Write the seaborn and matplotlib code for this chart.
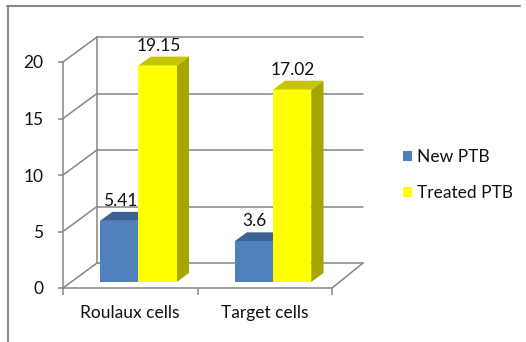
import matplotlib
matplotlib.use("Agg")
import matplotlib.pyplot as plt
import matplotlib.transforms as mtransforms
from matplotlib.lines import Line2D
from matplotlib.patches import Polygon, Patch
import seaborn as sns
import pandas as pd
import numpy as np

categories = ["Roulaux cells", "Target cells"]
series = ["New PTB", "Treated PTB"]
new_ptb = [5.41, 3.6]
treated_ptb = [19.15, 17.02]
value_labels = ["5.41", "3.6", "19.15", "17.02"]
yticks = [0, 5, 10, 15, 20]

df = pd.DataFrame({
    "cat": categories * 2,
    "series": [series[0]] * 2 + [series[1]] * 2,
    "value": new_ptb + treated_ptb,
})

sns.set_theme(style="white")
plt.rcParams['font.family'] = ['Lato', 'DejaVu Sans']

W, H, DPI = 526, 342, 100
FS = 12.5
TXT = "#111111"
fig = plt.figure(figsize=(W / DPI, H / DPI), dpi=DPI)
ax = fig.add_axes([63 / W, 54 / H, 269 / W, 226 / H])

front_cols = {"New PTB": "#4F81BD", "Treated PTB": "#FFFF00"}
top_cols = {"New PTB": "#3B6293", "Treated PTB": "#C6C600"}
side_cols = {"New PTB": "#33557F", "Treated PTB": "#A6A600"}
grid_col = "#868686"

sns.barplot(data=df, x="cat", y="value", hue="series", palette=front_cols,
            width=0.57, saturation=1, edgecolor="none", linewidth=0,
            legend=False, ax=ax)

ax.set_xlim(-0.5, 1.5)
ax.set_ylim(0, 20)
ax.set_autoscale_on(False)

# depth of the oblique projection, in pixels
DX, DY = 34.0, 25.0
F0, F1 = 0.24, 0.60  # bar front / back depth fractions
ident = mtransforms.IdentityTransform()


def P(x, y, f):
    px, py = ax.transData.transform((x, y))
    return (px + f * DX, py + f * DY)


def off(f):
    return ax.transData + mtransforms.ScaledTranslation(f * DX / DPI, f * DY / DPI, fig.dpi_scale_trans)


# back wall gridlines and left wall diagonals
for v in yticks:
    a, b = P(-0.5, v, 1), P(1.5, v, 1)
    ax.add_artist(Line2D([a[0], b[0] - 3], [a[1], b[1]], color=grid_col, lw=1.1,
                         transform=ident, clip_on=False, zorder=0.5))
    c = P(-0.5, v, 0)
    ax.add_artist(Line2D([c[0], a[0]], [c[1], a[1]], color=grid_col, lw=1.1,
                         transform=ident, clip_on=False, zorder=0.5))
a, b = P(-0.5, 0, 1), P(-0.5, 20, 1)
ax.add_artist(Line2D([a[0], b[0]], [a[1], b[1]], color=grid_col, lw=1.1,
                     transform=ident, clip_on=False, zorder=0.5))
a, b = P(1.5, 0, 0), P(1.5, 0, 1)
ax.add_artist(Line2D([a[0], b[0] - 3], [a[1], b[1]], color=grid_col, lw=1.1,
                     transform=ident, clip_on=False, zorder=0.5))

# 3D faces for the bars
patches = list(ax.patches)
base_z = {"New PTB": 1.0, "Treated PTB": 1.4}
for i, p in enumerate(patches):
    s = series[i // 2]
    x0 = p.get_x()
    w = p.get_width()
    h = p.get_height()
    x1 = x0 + w
    z = base_z[s] + 0.1 * (i % 2)
    side = [P(x1, 0, F0), P(x1, 0, F1), P(x1, h, F1), P(x1, h, F0)]
    top = [P(x0, h, F0), P(x0, h, F1), P(x1, h, F1), P(x1, h, F0)]
    ax.add_artist(Polygon(side, closed=True, facecolor=side_cols[s], edgecolor="none",
                          transform=ident, clip_on=False, zorder=z))
    ax.add_artist(Polygon(top, closed=True, facecolor=top_cols[s], edgecolor="none",
                          transform=ident, clip_on=False, zorder=z))
    p.set_transform(off(F0))
    p.set_clip_on(False)
    p.set_zorder(z + 0.05)
    cx = x0 + w / 2
    ax.text(cx, h, value_labels[i], transform=off(F0) + mtransforms.ScaledTranslation(1 / DPI, 20 / DPI, fig.dpi_scale_trans),
            ha="center", va="center", fontsize=FS, color=TXT, zorder=5)

# axes styling
for sp in ["top", "right"]:
    ax.spines[sp].set_visible(False)
for sp in ["left", "bottom"]:
    ax.spines[sp].set_color(grid_col)
    ax.spines[sp].set_linewidth(1.1)

ax.set_yticks(yticks)
ax.set_yticklabels([str(v) for v in yticks])
ax.tick_params(axis="y", which="major", direction="out", length=3.6, width=1.1,
               color=grid_col, pad=10.5, labelsize=FS, labelcolor=TXT, left=True)
ax.set_xticks([-0.5, 0.5, 1.5])
ax.set_xticklabels(["", "", ""])
ax.set_xticks([0, 1], minor=True)
ax.set_xticklabels(categories, minor=True)
ax.tick_params(axis="x", which="major", direction="out", length=5, width=1.1,
               color=grid_col, bottom=True)
ax.tick_params(axis="x", which="minor", length=0, pad=12, labelsize=FS, labelcolor=TXT)
ax.set_xlabel("")
ax.set_ylabel("")
ax.grid(False)

# legend
handles = [Patch(facecolor=front_cols[s], edgecolor="none") for s in series]
fig.legend(handles, series, loc="center left", bbox_to_anchor=(403 / W, (H - 175) / H),
           frameon=False, fontsize=FS, handlelength=0.52, handleheight=0.52,
           handletextpad=0.3, labelspacing=1.15, borderpad=0, borderaxespad=0,
           labelcolor=TXT)

# outer frame (left and top)
fig.add_artist(Line2D([7.5, 7.5], [0, H - 5.5], color="#8A8A8A", lw=1.5, transform=ident))
fig.add_artist(Line2D([7, 520], [H - 5.5, H - 5.5], color="#8A8A8A", lw=1.5, transform=ident))

fig.savefig("out.png", dpi=DPI)
